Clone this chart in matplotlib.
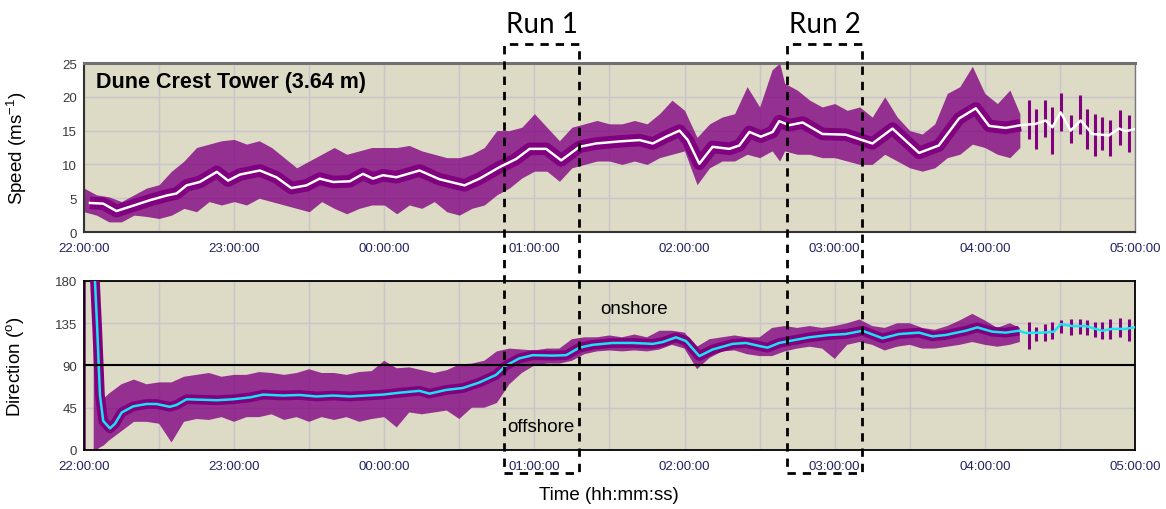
import numpy as np
import matplotlib
matplotlib.use("Agg")
import matplotlib.pyplot as plt
from matplotlib.patches import Rectangle
from matplotlib.transforms import blended_transform_factory

plt.rcParams["font.family"] = ["Liberation Sans", "DejaVu Sans"]
plt.rcParams["mathtext.default"] = "regular"

# time axis in minutes after 22:00:00
hour_ticks = [0, 60, 120, 180, 240, 300, 360, 420]
hour_labels = ["22:00:00", "23:00:00", "00:00:00", "01:00:00",
               "02:00:00", "03:00:00", "04:00:00", "05:00:00"]
gap_start = 375  # logger goes intermittent after ~04:15

# wind speed running mean (m/s)
speed_t = [2.4, 7.7, 13.0, 19.7, 26.3, 33.1, 37.0, 41.0, 46.3, 53.1, 57.6, 62.3,
           70.3, 76.9, 82.9, 88.9, 94.2, 99.6, 106.2, 111.5, 115.5, 119.5, 124.8,
           134.1, 142.1, 152.1, 158.1, 166.1, 172.7, 178.1, 184.7, 190.7, 198.0,
           204.7, 214.0, 222.0, 227.3, 232.6, 238.0, 241.3, 245.9, 251.2, 257.9,
           261.9, 265.9, 270.5, 275.2, 277.8, 281.8, 287.2, 295.1, 304.4, 315.1,
           323.1, 333.7, 341.6, 349.7, 356.4, 361.7, 368.3, 374.3, 380.3, 384.3,
           387.0, 390.3, 394.3, 398.3, 403.0, 409.6, 413.6, 416.3, 419.6]
speed_mean = [4.3, 4.2, 3.1, 3.9, 4.7, 5.4, 5.7, 6.9, 7.4, 8.9, 7.6, 8.5,
              9.1, 8.1, 6.5, 6.9, 7.9, 7.4, 7.5, 8.6, 7.9, 8.4, 8.1,
              9.1, 7.8, 6.9, 7.9, 9.6, 10.8, 12.3, 12.3, 10.6, 12.6,
              13.1, 13.4, 13.6, 13.1, 14.1, 15.0, 13.6, 10.1, 12.6, 12.3,
              12.8, 14.8, 14.1, 14.8, 16.4, 15.8, 16.2, 14.5, 14.4, 13.1,
              15.3, 11.7, 12.8, 16.8, 18.3, 15.7, 15.4, 15.8, 16.0, 16.5,
              15.5, 17.7, 15.0, 16.5, 14.5, 14.3, 15.3, 14.9, 15.2]

# wind speed, spread of the 1 Hz record (low / high)
speed_env_t = [0, 5, 10, 15, 20, 25, 30, 35, 40, 45, 50, 55, 60, 65, 70, 75, 80,
               85, 90, 95, 100, 105, 110, 115, 120, 125, 130, 135, 140, 145, 150,
               155, 160, 165, 170, 175, 180, 185, 190, 195, 200, 205, 210, 215,
               220, 225, 230, 235, 240, 245, 250, 255, 260, 265, 270, 275, 278,
               280, 285, 290, 295, 300, 305, 310, 315, 320, 325, 330, 335, 340,
               345, 350, 355, 360, 365, 370, 374]
speed_lo = [3.0, 2.5, 1.5, 1.5, 2.5, 2.3, 2.0, 2.5, 3.5, 3.0, 4.5, 4.0, 4.5, 4.0,
            5.0, 4.5, 4.0, 3.5, 3.0, 4.5, 3.5, 2.7, 3.5, 4.0, 4.0, 2.7, 4.0, 3.5,
            4.5, 3.0, 2.5, 3.5, 4.0, 5.5, 6.5, 8.0, 9.0, 9.0, 7.5, 9.5, 10.0,
            10.5, 10.5, 10.0, 10.5, 10.0, 11.0, 11.5, 12.0, 7.0, 9.5, 10.5, 10.5,
            11.5, 11.0, 12.0, 10.5, 12.0, 11.5, 11.5, 11.0, 11.0, 10.5, 10.0,
            10.0, 11.5, 10.5, 9.5, 9.0, 9.5, 11.0, 11.5, 13.0, 12.5, 11.5, 11.0,
            12.5]
speed_hi = [6.5, 5.5, 5.2, 4.5, 5.5, 6.5, 7.0, 9.0, 10.5, 12.5, 13.0, 13.5, 13.7,
            13.0, 13.5, 12.5, 11.0, 9.5, 10.5, 11.5, 12.5, 11.5, 12.0, 12.5, 12.5,
            12.5, 12.8, 12.0, 11.5, 11.0, 11.0, 11.5, 12.5, 15.0, 15.0, 15.5,
            17.5, 15.5, 13.5, 15.5, 16.0, 16.5, 16.0, 16.0, 16.5, 16.0, 17.5,
            19.5, 18.0, 14.0, 16.0, 17.0, 17.5, 21.5, 18.5, 24.0, 25.0, 22.0,
            21.0, 19.5, 18.5, 19.0, 18.0, 18.5, 17.0, 20.0, 17.0, 15.0, 14.5,
            16.0, 20.5, 21.5, 24.5, 20.5, 19.0, 21.0, 17.5]

# isolated bursts after the logger became intermittent
burst_t = [377.5, 380.5, 384, 387, 390.5, 394.5, 398, 401, 404, 407, 410, 414, 417.5]
speed_burst_lo = [13.8, 12.3, 14.1, 11.6, 15.0, 13.1, 14.5, 12.3, 11.3, 12.1, 11.3, 12.8, 11.8]
speed_burst_hi = [19.5, 18.2, 19.5, 18.5, 20.5, 17.3, 20.2, 18.2, 17.5, 17.0, 16.5, 18.0, 17.3]

# wind direction running mean (deg)
dir_t = [4.4, 5.3, 6.4, 7.7, 10.4, 12.4, 15.1, 19.7, 25.0, 29.0, 34.3, 37.0, 41.0,
         46.3, 53.1, 59.6, 66.3, 71.6, 79.6, 86.2, 92.9, 99.6, 106.2, 112.9, 119.5,
         126.1, 134.1, 138.1, 144.8, 151.4, 158.1, 164.7, 168.7, 174.0, 179.4,
         187.2, 192.7, 198.0, 203.3, 211.3, 219.3, 227.3, 231.3, 236.6, 240.6,
         245.9, 251.2, 259.2, 264.5, 271.2, 273.2, 277.8, 281.8, 289.8, 297.8,
         304.4, 311.1, 319.1, 325.7, 333.7, 339.1, 344.4, 352.4, 357.0, 363.0,
         368.3, 373.6, 376.3, 383.0, 387.6, 390.3, 394.9, 400.3, 406.9, 410.9,
         416.3, 419.6]
dir_mean = [180, 129, 58, 31, 23, 28, 40, 46.5, 49, 49, 46, 48, 54,
            53.6, 53, 54, 56, 59, 58, 58.6, 57, 58, 57, 58, 59,
            61, 63, 60, 64, 66, 72, 80, 90, 97.6, 101,
            100.5, 101, 109, 112, 114, 114, 113, 115, 120, 116,
            100, 107, 113, 114, 110, 109, 114, 116, 120, 122.5,
            123.5, 127, 119, 123.5, 125, 121, 122.5, 127, 130.6, 126,
            125, 127, 124.6, 125, 126, 134, 132, 132, 127, 129,
            129, 130.6]

# wind direction spread; the vane swings through the full circle at start-up
dir_env_t = [0, 0.8, 0.9, 3.8, 3.9, 5.2, 6, 8, 10, 15, 20, 25, 30, 35, 40, 45, 50,
             55, 60, 65, 70, 75, 80, 85, 90, 95, 100, 105, 110, 115, 120, 125,
             130, 135, 140, 145, 150, 155, 160, 165, 170, 175, 180, 185, 190, 195,
             200, 205, 210, 215, 220, 225, 230, 235, 240, 245, 250, 255, 260,
             265, 270, 275, 280, 285, 290, 295, 300, 305, 310, 315, 320, 325,
             330, 335, 340, 345, 350, 355, 360, 365, 370, 374]
dir_lo = [0, 0, np.nan, np.nan, 0, 0, 2, 5, 10, 20, 30, 30, 28, 8, 30, 33, 32,
          35, 30, 35, 35, 38, 32, 35, 30, 35, 32, 35, 30, 33, 35, 24,
          40, 38, 40, 42, 33, 45, 45, 50, 70, 82, 90, 92, 92, 95,
          102, 105, 106, 105, 106, 105, 107, 112, 108, 86, 98, 105, 106,
          102, 100, 100, 105, 108, 110, 108, 97, 112, 115, 112, 106, 110,
          112, 108, 108, 110, 112, 115, 112, 110, 112, 115]
dir_hi = [180, 180, np.nan, np.nan, 180, 180, 100, 55, 60, 70, 75, 70, 72, 72, 78, 80, 82,
          78, 80, 80, 83, 82, 80, 82, 86, 82, 82, 80, 83, 84, 95, 87,
          88, 85, 82, 85, 91, 92, 95, 105, 108, 107, 106, 108, 108, 118,
          120, 120, 122, 120, 123, 120, 127, 127, 125, 110, 118, 120, 122,
          120, 120, 130, 132, 130, 132, 130, 132, 135, 139, 132, 130, 135,
          135, 130, 128, 132, 138, 145, 138, 130, 135, 130]
dir_burst_lo = [107.5, 116, 116, 118, 125, 122.5, 123.5, 122, 120, 118, 118, 120, 116]
dir_burst_hi = [136, 130.6, 134, 136, 138, 140, 139.5, 138, 136, 136, 139.5, 141, 139.5]

# measurement runs (minutes after 22:00)
run_names = ["Run 1", "Run 2"]
run_start = [168, 281]
run_end = [198, 311]

BG = "#dddac5"
PURPLE = "#800080"
GRID = "#c8c5cc"


def draw_series(ax, env_t, lo, hi, t, mean, b_lo, b_hi, line_color, core_lw):
    t = np.asarray(t)
    mean = np.asarray(mean)
    ax.fill_between(env_t, lo, hi, color=PURPLE, alpha=0.78, lw=0, zorder=2)
    # dense part of the record around the running mean
    keep = t <= gap_start
    ax.plot(t[keep], mean[keep], color=PURPLE, lw=core_lw,
            solid_capstyle="butt", solid_joinstyle="round", zorder=3)
    ax.vlines(burst_t, b_lo, b_hi, color=PURPLE, lw=2.2, zorder=3)
    ax.plot(t, mean, color=line_color, lw=1.8, zorder=4)


def style_axes(ax):
    ax.set_facecolor(BG)
    ax.set_xlim(0, 420)
    ax.set_xticks(hour_ticks)
    ax.set_xticklabels(hour_labels)
    ax.set_xticks(np.arange(30, 420, 60), minor=True)
    ax.grid(True, which="both", color=GRID, lw=1.0, zorder=0)
    ax.set_axisbelow(True)
    ax.tick_params(axis="both", which="both", length=0, labelsize=9.5)
    ax.tick_params(axis="x", pad=7, colors="#23235e")
    ax.tick_params(axis="y", pad=5, colors="#3a3a3a")


fig = plt.figure(figsize=(11.66, 5.10), dpi=100)
ax1 = fig.add_axes([0.0720, 0.5431, 0.9014, 0.3314])
ax2 = fig.add_axes([0.0720, 0.1157, 0.9014, 0.3314])

# top: speed
style_axes(ax1)
draw_series(ax1, speed_env_t, speed_lo, speed_hi, speed_t, speed_mean,
            speed_burst_lo, speed_burst_hi, "white", 9)
ax1.set_ylim(0, 25)
ax1.set_yticks([0, 5, 10, 15, 20, 25])
ax1.set_ylabel("Speed (ms$^{-1}$)", fontsize=13.5)
ax1.yaxis.set_label_coords(-0.052, 0.5)
ax1.text(0.011, 0.893, "Dune Crest Tower (3.64 m)", transform=ax1.transAxes,
         fontsize=15.5, fontweight="bold", va="center", ha="left", zorder=6)
for side, c, w in [("top", "#707070", 2.2), ("left", "#333333", 1.5),
                   ("bottom", "#333333", 1.5), ("right", "#777777", 1.0)]:
    ax1.spines[side].set_color(c)
    ax1.spines[side].set_linewidth(w)

# bottom: direction
style_axes(ax2)
draw_series(ax2, dir_env_t, dir_lo, dir_hi, dir_t, dir_mean,
            dir_burst_lo, dir_burst_hi, "#19e3f0", 7)
ax2.axhline(90, color="black", lw=1.5, zorder=5)
ax2.set_ylim(0, 180)
ax2.set_yticks([0, 45, 90, 135, 180])
ax2.set_ylabel("Direction ($^{o}$)", fontsize=13.5)
ax2.yaxis.set_label_coords(-0.055, 0.5)
for side in ax2.spines:
    ax2.spines[side].set_color("black")
    ax2.spines[side].set_linewidth(1.3)
ax2.text(220, 151, "onshore", fontsize=13.5, ha="center", va="center", zorder=6)
ax2.text(182.5, 25, "offshore", fontsize=13.5, ha="center", va="center", zorder=6)

fig.text(0.5223, 0.028, "Time (hh:mm:ss)", fontsize=13.5, ha="center", va="center")

# dashed boxes spanning both panels for the two runs
trans = blended_transform_factory(ax1.transData, fig.transFigure)
for name, t0, t1 in zip(run_names, run_start, run_end):
    box = Rectangle((t0, 0.0706), t1 - t0, 0.9118 - 0.0706, transform=trans,
                    fill=False, edgecolor="black", lw=2.0,
                    linestyle=(0, (3, 2.5)), clip_on=False, zorder=10)
    fig.add_artist(box)
    fig.text((t0 + t1) / 2, 0.951, name, transform=trans, ha="center",
             va="center", fontsize=20, family=["Lato", "DejaVu Sans"])

fig.savefig("out.png", dpi=100)
